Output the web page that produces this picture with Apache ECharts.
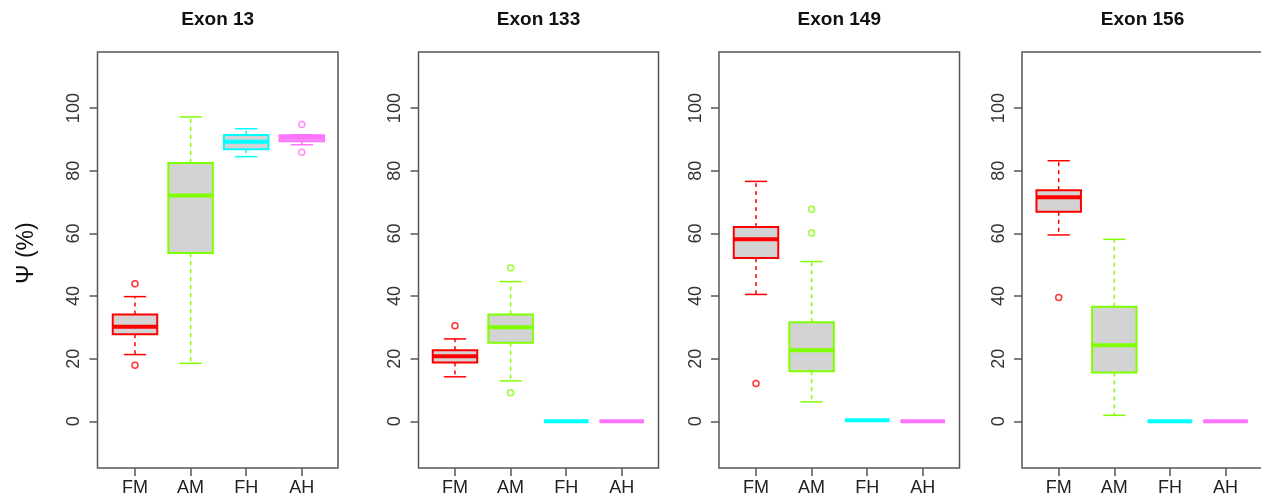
<!DOCTYPE html>
<html>
<head>
<meta charset="utf-8">
<title>Exon PSI boxplots</title>
<script src="https://cdn.jsdelivr.net/npm/echarts@6/dist/echarts.min.js"></script>
<style>
  html, body { margin: 0; padding: 0; background: #fff; }
  #chart { width: 1261px; height: 500px; }
</style>
</head>
<body>
<div id="chart"></div>
<script>
// ===== Data =====
const categories = ['FM', 'AM', 'FH', 'AH'];
const exonTitles = ['Exon 13', 'Exon 133', 'Exon 149', 'Exon 156'];
const yTicks = [0, 20, 40, 60, 80, 100];

// per group: [lower whisker, Q1, median, Q3, upper whisker]
const exon13Stats = [
  [21.3, 27.8, 30.2, 34.1, 39.8],
  [18.5, 53.7, 72.1, 82.5, 97.2],
  [84.5, 86.9, 89.3, 91.4, 93.4],
  [88.3, 89.4, 90.5, 91.3, 91.5]
];
const exon133Stats = [
  [14.2, 18.8, 20.8, 22.7, 26.3],
  [12.9, 25.1, 30.0, 34.1, 44.6],
  [0, 0, 0, 0, 0],
  [0, 0, 0, 0, 0]
];
const exon149Stats = [
  [40.5, 52.1, 58.1, 62.0, 76.6],
  [6.2, 16.0, 22.7, 31.6, 51.0],
  [0.3, 0.3, 0.3, 0.3, 0.3],
  [0, 0, 0, 0, 0]
];
const exon156Stats = [
  [59.5, 66.9, 71.5, 73.8, 83.2],
  [1.9, 15.6, 24.3, 36.6, 58.1],
  [0, 0, 0, 0, 0],
  [0, 0, 0, 0, 0]
];

// outliers: [group index, value]
const exon13Outliers = [[0, 43.9], [0, 17.9], [3, 94.8], [3, 85.9]];
const exon133Outliers = [[0, 30.5], [1, 49.0], [1, 9.1]];
const exon149Outliers = [[0, 12.1], [1, 67.7], [1, 60.1]];
const exon156Outliers = [[0, 39.5]];

const allStats = [exon13Stats, exon133Stats, exon149Stats, exon156Stats];
const allOutliers = [exon13Outliers, exon133Outliers, exon149Outliers, exon156Outliers];

// ===== Style / layout =====
const boxColors = ['#ff0000', '#80ff00', '#00ffff', '#ff73ff'];
const boxFill = '#d3d3d3';
const frameColor = '#555';
const FONT = '"Liberation Sans", Arial, Helvetica, sans-serif';

const Y_MIN = -14.92;
const Y_MAX = 117.92;
const TOP = 52;
const HEIGHT = 416;
const frameLeft = [97.5, 418.5, 719, 1022];
const frameWidth = [240.5, 240, 240.5, 241];
const plotLeft = [107.2, 427.2, 728.2, 1030.9];
const plotWidth = 222.4;

function renderBox(params, api) {
  const idx = api.value(0);
  const x = api.coord([idx, 0])[0];
  const band = api.size([1, 0])[0];
  const half = band * 0.4;
  const cap = band * 0.2;
  const y = k => api.coord([idx, api.value(k)])[1];
  const yLow = y(1), yQ1 = y(2), yMed = y(3), yQ3 = y(4), yHigh = y(5);
  const color = boxColors[idx];
  const thin = { stroke: color, lineWidth: 1.5 };
  const dashed = { stroke: color, lineWidth: 1.5, lineDash: [4, 4] };

  return {
    type: 'group',
    children: [
      { type: 'line', shape: { x1: x, y1: yQ3, x2: x, y2: yHigh }, style: dashed },
      { type: 'line', shape: { x1: x, y1: yQ1, x2: x, y2: yLow }, style: dashed },
      { type: 'line', shape: { x1: x - cap, y1: yHigh, x2: x + cap, y2: yHigh }, style: thin },
      { type: 'line', shape: { x1: x - cap, y1: yLow, x2: x + cap, y2: yLow }, style: thin },
      {
        type: 'rect',
        shape: { x: x - half, y: yQ3, width: half * 2, height: yQ1 - yQ3 },
        style: { fill: boxFill, stroke: color, lineWidth: 2 }
      },
      { type: 'line', shape: { x1: x - half, y1: yMed, x2: x + half, y2: yMed }, style: { stroke: color, lineWidth: 4 } }
    ]
  };
}

const grids = [], xAxes = [], yAxes = [], series = [], graphics = [];

allStats.forEach((stats, p) => {
  // frame grid with the y axis
  grids.push({
    left: frameLeft[p], top: TOP, width: frameWidth[p], height: HEIGHT,
    show: true, borderColor: frameColor, borderWidth: 1.5,
    backgroundColor: 'transparent', containLabel: false, outerBoundsMode: 'none'
  });
  xAxes.push({ type: 'value', gridIndex: p * 2, min: 0, max: 1, show: false });
  yAxes.push({
    type: 'value', gridIndex: p * 2, min: Y_MIN, max: Y_MAX,
    axisLine: { show: false, onZero: false },
    splitLine: { show: false },
    axisTick: { show: true, inside: false, length: 8, customValues: yTicks, lineStyle: { color: frameColor, width: 1.5 } },
    axisLabel: { customValues: yTicks, rotate: 90, margin: 14, fontSize: 18, color: '#333', fontFamily: FONT }
  });

  // plot grid with the category axis
  grids.push({
    left: plotLeft[p], top: TOP, width: plotWidth, height: HEIGHT,
    containLabel: false, outerBoundsMode: 'none'
  });
  xAxes.push({
    type: 'category', gridIndex: p * 2 + 1, data: categories, boundaryGap: true,
    axisLine: { show: false, onZero: false },
    axisTick: { show: true, alignWithLabel: true, length: 8, lineStyle: { color: frameColor, width: 1.5 } },
    axisLabel: { fontSize: 18, color: '#222', margin: 11.5, fontFamily: FONT, interval: 0 }
  });
  yAxes.push({ type: 'value', gridIndex: p * 2 + 1, min: Y_MIN, max: Y_MAX, show: false });

  series.push({
    type: 'custom',
    xAxisIndex: p * 2 + 1, yAxisIndex: p * 2 + 1,
    renderItem: renderBox,
    encode: { x: 0, y: [1, 2, 3, 4, 5] },
    data: stats.map((s, i) => [i].concat(s)),
    silent: true
  });
  series.push({
    type: 'scatter',
    xAxisIndex: p * 2 + 1, yAxisIndex: p * 2 + 1,
    symbol: 'circle', symbolSize: 6,
    data: allOutliers[p].map(o => ({
      value: o,
      itemStyle: { color: 'rgba(0,0,0,0)', borderColor: boxColors[o[0]], borderWidth: 1.5 }
    })),
    silent: true
  });

  graphics.push({
    type: 'text',
    x: frameLeft[p] + frameWidth[p] / 2, y: 20,
    style: { text: exonTitles[p], textAlign: 'center', textVerticalAlign: 'middle', font: 'bold 19px ' + FONT, fill: '#111' }
  });
});

graphics.push({
  type: 'text', x: 27, y: 253, rotation: Math.PI / 2,
  style: { text: 'Ψ (%)', textAlign: 'center', textVerticalAlign: 'middle', font: '23px ' + FONT, fill: '#111' }
});

const chart = echarts.init(document.getElementById('chart'), null, { renderer: 'canvas' });
chart.setOption({
  animation: false,
  backgroundColor: '#fff',
  grid: grids,
  xAxis: xAxes,
  yAxis: yAxes,
  series: series,
  graphic: graphics
});
window.addEventListener('resize', () => chart.resize());
</script>
</body>
</html>
